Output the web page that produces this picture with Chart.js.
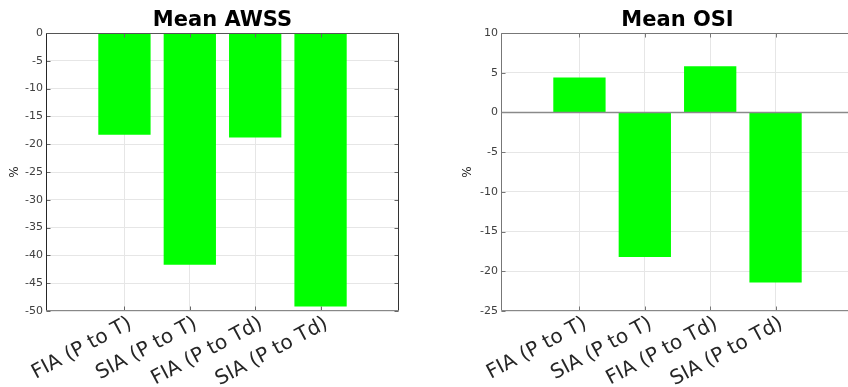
<!DOCTYPE html>
<html>
<head>
<meta charset="utf-8">
<script src="https://cdn.jsdelivr.net/npm/chart.js@4.4.1/dist/chart.umd.min.js"></script>
<style>
  html, body { margin: 0; padding: 0; background: #fff; overflow: hidden; width: 848px; height: 387px; }
  #wrap { position: relative; width: 848px; height: 387px; overflow: hidden; }
  canvas { position: absolute; top: 0; }
  #awss { left: 0; }
  #osi { left: 420px; }
</style>
</head>
<body>
<div id="wrap">
  <canvas id="awss" width="420" height="387"></canvas>
  <canvas id="osi" width="440" height="387"></canvas>
</div>
<script>
// Groups along the x axis and their positions
const categories = ['FIA (P to T)', 'SIA (P to T)', 'FIA (P to Td)', 'SIA (P to Td)'];
const categoryPositions = [1, 2, 3, 4];

// Mean change per group, in %
const awssValues = [-18.3, -41.7, -18.8, -49.2];
const osiValues = [4.4, -18.2, 5.8, -21.4];

// y tick values for each panel
const awssTicks = [0, -5, -10, -15, -20, -25, -30, -35, -40, -45, -50];
const osiTicks = [10, 5, 0, -5, -10, -15, -20, -25];

const FONT = "'DejaVu Sans', Verdana, sans-serif";
const BAR_COLOR = '#00ff00';
const GRID_COLOR = '#e6e6e6';
const TEXT_COLOR = '#404040';

// Box outline, inward tick marks and (optionally) the zero baseline
const framePlugin = {
  id: 'frame',
  afterDatasetsDraw(chart, args, opts) {
    const { ctx, chartArea: a, scales: { x, y } } = chart;
    const L = Math.round(a.left) + 0.5, R = Math.round(a.right) - 0.5;
    const T = Math.round(a.top) + 0.5, B = Math.round(a.bottom) - 0.5;
    ctx.save();
    ctx.lineWidth = 1;
    ctx.strokeStyle = opts.tickColor;
    ctx.beginPath();
    y.ticks.forEach(t => {
      const py = Math.round(y.getPixelForValue(t.value)) + 0.5;
      ctx.moveTo(L, py); ctx.lineTo(L + 4, py);
      ctx.moveTo(R, py); ctx.lineTo(R - 4, py);
    });
    x.ticks.forEach(t => {
      const px = Math.round(x.getPixelForValue(t.value)) + 0.5;
      ctx.moveTo(px, B); ctx.lineTo(px, B - 4);
      ctx.moveTo(px, T); ctx.lineTo(px, T + 4);
    });
    ctx.stroke();

    const edge = (color, x1, y1, x2, y2, w) => {
      ctx.beginPath();
      ctx.lineWidth = w || 1;
      ctx.strokeStyle = color;
      ctx.moveTo(x1, y1); ctx.lineTo(x2, y2);
      ctx.stroke();
    };
    edge(opts.topColor, L, T, R, T);
    edge(opts.bottomColor, L, B, R, B);
    edge(opts.leftColor, L, T, L, B);
    edge(opts.rightColor, R, T, R, B);

    if (opts.baseline) {
      const p0 = Math.round(y.getPixelForValue(0)) + 0.5;
      edge(opts.baseline, L, p0, R, p0, 1.5);
    }
    ctx.restore();
  }
};

function makeChart(canvasId, titleText, values, yTicks, yMin, yMax, geom, frame) {
  return new Chart(document.getElementById(canvasId), {
    type: 'bar',
    data: {
      datasets: [{
        data: categoryPositions.map((p, i) => ({ x: p, y: values[i] })),
        backgroundColor: BAR_COLOR,
        borderWidth: 0,
        barPercentage: 0.8,
        categoryPercentage: 1.0
      }]
    },
    options: {
      responsive: false,
      animation: false,
      events: [],
      layout: { padding: { left: 0, right: geom.padRight, top: 0, bottom: 0 } },
      plugins: {
        legend: { display: false },
        tooltip: { enabled: false },
        title: {
          display: true,
          text: titleText,
          fullSize: false,
          color: '#000',
          font: { family: FONT, size: 21, weight: 'bold', lineHeight: 1 },
          padding: { top: 10, bottom: 2 }
        },
        frame: frame
      },
      scales: {
        x: {
          type: 'linear',
          min: -0.2,
          max: 5.2,
          offset: false,
          afterBuildTicks: s => { s.ticks = categoryPositions.map(v => ({ value: v })); },
          afterFit: s => { s.height = 76; },
          grid: { color: GRID_COLOR, drawTicks: false, lineWidth: 1, offset: false },
          border: { display: false },
          ticks: {
            autoSkip: false,
            maxRotation: 28,
            minRotation: 28,
            padding: 1,
            labelOffset: 6,
            color: '#262626',
            font: { family: FONT, size: 20 },
            callback: v => categories[categoryPositions.indexOf(v)]
          }
        },
        y: {
          min: yMin,
          max: yMax,
          afterBuildTicks: s => { s.ticks = yTicks.map(v => ({ value: v })); },
          afterFit: s => { s.width = geom.yWidth; },
          grid: { color: GRID_COLOR, drawTicks: false, lineWidth: 1 },
          border: { display: false },
          ticks: {
            padding: 3,
            color: TEXT_COLOR,
            font: { family: FONT, size: 11 },
            callback: v => String(v)
          },
          title: {
            display: true,
            text: '%',
            color: '#262626',
            font: { family: FONT, size: 12, lineHeight: 1.2 },
            padding: { top: geom.yTitlePad, bottom: 0 }
          }
        }
      }
    },
    plugins: [framePlugin]
  });
}

makeChart('awss', 'Mean AWSS', awssValues, awssTicks, -50, 0,
  { padRight: 21, yWidth: 46, yTitlePad: 8 },
  { tickColor: '#666', topColor: '#555', bottomColor: '#888', leftColor: '#262626', rightColor: '#333', baseline: null });

makeChart('osi', 'Mean OSI', osiValues, osiTicks, -25, 10,
  { padRight: 6, yWidth: 81, yTitlePad: 41 },
  { tickColor: '#777', topColor: '#777', bottomColor: '#888', leftColor: '#777', rightColor: '#777', baseline: '#8a8a8a' });
</script>
</body>
</html>
